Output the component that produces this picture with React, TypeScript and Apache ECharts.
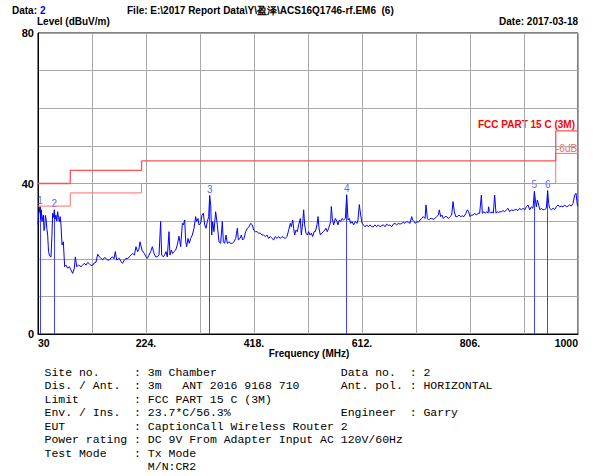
import React, { useEffect, useRef } from "react";
import * as echarts from "echarts";

// ---------------- data ----------------
const traceFreqs = [
  30.0, 31.2, 32.4, 33.6, 34.8, 36.0, 37.2, 38.4, 39.6, 40.8, 42.0, 43.2, 44.4, 45.9, 47.4, 48.9, 50.4, 51.9, 53.4, 55.0,
  56.3, 58.0, 59.3, 60.8, 62.3, 63.8, 65.3, 66.8, 68.3, 69.8, 71.3, 73.1, 75.5, 77.9, 80.3, 83.3, 86.3, 89.3, 92.3, 95.3,
  97.1, 99.5, 103.0, 107.3, 110.2, 113.2, 116.2, 119.2, 122.2, 125.2, 128.2, 131.2, 134.2, 137.2, 140.2, 143.2, 146.2, 149.2, 152.2, 155.1,
  158.1, 161.1, 164.1, 166.5, 168.9, 171.3, 176.1, 179.1, 182.1, 185.1, 188.1, 191.1, 194.1, 197.1, 200.1, 203.1, 206.0, 209.0, 211.2, 213.2,
  216.8, 221.0, 224.0, 226.4, 229.4, 232.4, 235.4, 238.4, 241.4, 244.4, 247.4, 250.3, 252.1, 255.1, 257.5, 259.9, 262.3, 265.3, 267.1, 269.5,
  271.9, 274.3, 277.3, 280.3, 283.3, 286.3, 289.3, 291.1, 293.5, 295.3, 297.1, 299.4, 301.8, 304.2, 307.2, 310.2, 313.2, 315.0, 317.4, 319.2,
  322.2, 324.6, 327.0, 329.4, 331.8, 334.2, 336.6, 338.4, 340.2, 342.0, 343.8, 346.1, 349.1, 352.1, 355.1, 358.1, 361.1, 362.9, 365.3, 367.7,
  370.1, 373.1, 376.1, 379.1, 382.1, 385.1, 388.1, 389.9, 392.9, 395.3, 397.6, 400.0, 403.0, 406.0, 409.0, 412.0, 415.0, 417.4, 420.4, 423.4,
  426.4, 429.4, 432.4, 435.4, 438.4, 441.3, 444.3, 447.3, 450.3, 453.3, 456.3, 459.3, 462.3, 465.3, 468.3, 471.3, 474.3, 477.3, 480.3, 483.3,
  485.1, 487.5, 489.3, 491.0, 493.4, 495.8, 498.2, 501.2, 503.0, 505.4, 507.2, 509.0, 511.4, 513.8, 516.2, 518.6, 521.0, 523.4, 525.8, 528.2,
  531.2, 533.0, 534.8, 537.2, 540.1, 542.5, 544.9, 547.3, 549.7, 552.1, 553.9, 555.7, 556.9, 558.7, 561.1, 564.1, 567.1, 568.9, 571.3, 573.7,
  576.1, 579.1, 582.1, 584.5, 586.9, 589.3, 591.6, 594.0, 597.0, 600.0, 603.0, 604.8, 607.2, 609.6, 612.0, 614.4, 617.4, 620.4, 623.4, 626.4,
  629.4, 632.4, 635.3, 638.3, 641.3, 644.3, 647.3, 650.3, 653.3, 656.3, 659.3, 662.3, 665.3, 668.3, 671.3, 674.3, 677.3, 680.3, 683.3, 686.2,
  689.2, 692.2, 695.2, 698.2, 701.2, 703.0, 705.4, 707.8, 710.2, 713.2, 716.2, 719.2, 722.2, 725.2, 727.0, 729.4, 731.8, 734.2, 737.2, 740.1,
  743.1, 746.1, 749.1, 750.9, 753.3, 755.7, 758.1, 761.1, 764.1, 767.1, 770.1, 773.1, 775.5, 777.9, 780.3, 783.2, 786.2, 789.2, 792.2, 795.2,
  798.8, 801.2, 803.6, 806.0, 808.4, 811.4, 814.4, 817.4, 820.4, 823.4, 826.4, 828.2, 831.1, 833.5, 835.9, 838.3, 839.5, 840.7, 843.1, 845.5,
  847.9, 850.3, 852.7, 855.1, 857.5, 859.9, 862.3, 865.3, 868.3, 871.3, 874.3, 877.2, 880.2, 883.2, 886.2, 889.2, 892.2, 895.2, 898.2, 901.2,
  904.2, 907.2, 910.2, 913.2, 916.2, 919.2, 921.6, 923.4, 925.2, 927.0, 929.3, 931.7, 934.1, 937.1, 940.1, 943.1, 945.5, 947.3, 949.1, 952.1,
  955.1, 958.1, 961.1, 964.1, 967.1, 970.1, 973.1, 976.1, 979.1, 982.1, 985.0, 988.0, 991.0, 994.0, 996.4, 998.8, 1000.0,
];
const traceLevels = [
  29.0, 32.0, 32.5, 33.8, 30.5, 33.0, 29.9, 31.0, 31.6, 27.5, 28.1, 31.5, 30.7, 28.0, 26.3, 22.0, 21.0, 20.6, 20.5, 26.0,
  32.1, 31.0, 33.0, 30.5, 31.6, 30.0, 32.5, 31.0, 29.9, 31.2, 29.0, 23.7, 24.5, 17.9, 18.3, 17.5, 17.9, 17.0, 16.1, 17.5,
  20.5, 17.9, 18.3, 17.9, 18.3, 18.8, 18.3, 19.0, 18.7, 18.2, 18.3, 18.9, 19.1, 21.2, 20.5, 20.1, 19.7, 20.3, 20.1, 19.6,
  19.7, 20.2, 20.5, 20.0, 21.9, 19.7, 20.1, 19.2, 18.8, 19.7, 20.1, 20.0, 20.5, 21.0, 21.4, 21.0, 23.2, 21.9, 22.5, 24.5,
  22.3, 21.4, 20.5, 20.1, 21.0, 21.9, 23.2, 21.4, 20.5, 20.5, 21.0, 29.9, 21.0, 20.5, 21.0, 21.9, 20.5, 27.2, 21.0, 22.3,
  21.4, 21.9, 22.3, 23.7, 26.0, 23.2, 29.4, 29.0, 30.3, 24.5, 23.2, 25.4, 24.1, 25.4, 26.3, 28.1, 31.2, 29.9, 30.7, 29.0,
  29.4, 31.6, 32.1, 29.0, 28.1, 29.9, 31.2, 36.8, 34.3, 26.3, 29.9, 27.2, 32.5, 29.0, 24.5, 24.1, 29.9, 24.5, 24.1, 26.3,
  24.1, 24.5, 24.1, 24.1, 24.5, 25.4, 28.1, 25.0, 25.4, 26.3, 25.0, 25.4, 27.2, 28.1, 28.5, 29.4, 29.0, 27.6, 27.2, 27.2,
  26.8, 26.8, 26.3, 26.3, 25.9, 26.3, 25.4, 25.9, 25.4, 25.0, 25.9, 25.4, 25.9, 25.4, 25.9, 25.6, 25.4, 25.9, 27.6, 29.4,
  28.5, 30.3, 28.1, 26.3, 27.6, 27.2, 29.0, 30.7, 26.3, 29.4, 33.0, 29.0, 26.8, 26.3, 27.2, 26.3, 26.8, 25.9, 27.2, 27.2,
  29.0, 31.2, 28.1, 26.3, 26.8, 27.2, 27.6, 28.1, 27.2, 28.1, 29.0, 29.9, 33.9, 30.7, 29.0, 30.7, 29.9, 29.0, 30.3, 29.9,
  30.7, 30.3, 30.7, 37.0, 30.3, 30.7, 29.4, 29.9, 29.0, 29.9, 29.4, 30.3, 34.4, 31.6, 29.5, 29.0, 28.5, 29.0, 28.5, 29.0,
  28.5, 28.5, 29.0, 28.5, 29.0, 28.5, 28.8, 29.0, 28.5, 29.2, 28.8, 29.0, 28.5, 29.2, 29.4, 29.0, 29.4, 29.2, 29.4, 29.7,
  29.4, 29.9, 29.7, 29.4, 31.2, 30.3, 29.9, 29.4, 29.9, 29.7, 30.3, 30.7, 31.2, 30.7, 34.3, 30.7, 30.3, 30.7, 30.7, 30.5,
  30.7, 31.2, 31.6, 33.0, 31.2, 31.6, 30.7, 31.2, 31.2, 30.7, 31.2, 31.6, 35.2, 32.5, 31.2, 31.2, 31.6, 31.2, 31.4, 31.2,
  32.1, 33.0, 32.5, 31.2, 31.6, 31.6, 32.1, 31.6, 32.1, 32.1, 36.9, 32.1, 32.5, 32.1, 32.5, 32.1, 33.8, 32.5, 32.1, 32.5,
  32.1, 36.9, 32.1, 32.5, 32.3, 32.5, 32.5, 32.8, 32.5, 33.0, 33.4, 32.5, 33.0, 32.8, 33.0, 33.1, 32.8, 33.4, 33.0, 33.4,
  33.0, 33.8, 34.3, 33.0, 33.8, 33.4, 37.9, 35.6, 33.8, 35.6, 34.3, 33.0, 33.4, 33.0, 33.1, 33.4, 38.1, 34.7, 33.4, 33.0,
  33.4, 33.1, 33.8, 34.3, 33.8, 34.0, 33.8, 34.3, 33.8, 34.0, 34.3, 34.0, 34.7, 36.9, 37.4, 34.3, 34.0,
];

// FCC Part 15 C (3M) limit: band edges and levels
const limitFreqs = [30, 88, 216, 960, 1000];
const limitLevels = [40, 43.5, 46, 54];
const marginDb = 6;

// peak markers
const markerNames = ["1", "2", "3", "4", "5", "6"];
const markerFreqs = [33.6, 59.3, 338.4, 584.5, 921.6, 945.5];
const markerLevels = [33.8, 33.0, 36.8, 37.0, 37.9, 38.1];

// axis tick labels
const xTickLabels = ["30", "224.", "418.", "612.", "806.", "1000"];
const yTickLabels = ["0", "40", "80"];

// info block
const infoRows: (string | null)[][] = [
  ["Site no.", "3m Chamber", "Data no.", "2"],
  ["Dis. / Ant.", "3m   ANT 2016 9168 710", "Ant. pol.", "HORIZONTAL"],
  ["Limit", "FCC PART 15 C (3M)", null, null],
  ["Env. / Ins.", "23.7*C/56.3%", "Engineer", "Garry"],
  ["EUT", "CaptionCall Wireless Router 2", null, null],
  ["Power rating", "DC 9V From Adapter Input AC 120V/60Hz", null, null],
  ["Test Mode", "Tx Mode", null, null],
  [null, "M/N:CR2", null, null],
];

// ---------------- helpers ----------------
const SANS = '"Liberation Sans", Arial, sans-serif';
const MONO = '"Liberation Mono", "DejaVu Sans Mono", monospace';

function pad(s: string, n: number) {
  while (s.length < n) s += " ";
  return s;
}

function buildLine(row: (string | null)[]) {
  let s = row[0] === null ? pad("", 15) : pad(row[0] as string, 13) + ": ";
  s += row[1] || "";
  if (row[2] !== null) {
    s = pad(s, 43) + pad(row[2] as string, 10) + ": " + (row[3] || "");
  }
  return s;
}

function stepData(freqs: number[], levels: number[], offset: number) {
  const pts: number[][] = [];
  for (let i = 0; i < levels.length; i++) {
    pts.push([freqs[i], levels[i] + offset]);
    pts.push([freqs[i + 1], levels[i] + offset]);
  }
  return pts;
}

function txt(text: string, x: number, y: number, opts: any = {}) {
  return {
    type: "text",
    x,
    y,
    silent: true,
    style: {
      text,
      fill: opts.fill || "#000",
      font: opts.font || `bold 10px ${SANS}`,
      textAlign: opts.align || "left",
      align: opts.align || "left",
      textVerticalAlign: "middle",
      verticalAlign: "middle",
    },
  };
}

export default function App() {
  const ref = useRef<HTMLDivElement>(null);

  useEffect(() => {
    if (!ref.current) return;
    const chart = echarts.init(ref.current, null, { renderer: "svg" });

    const graphics: any[] = [
      txt("Data:", 12, 10),
      txt("2", 40, 10, { fill: "#0000ff" }),
      txt("File: E:\\2017 Report Data\\Y\\盈泽\\ACS16Q1746-rf.EM6  (6)", 127, 10),
      txt("Level (dBuV/m)", 37, 21),
      txt("Date: 2017-03-18", 578, 21, { align: "right" }),
      txt("Frequency (MHz)", 309, 353, { align: "center" }),
      txt("FCC PART 15 C (3M)", 575, 124.5, { fill: "#ff0000", align: "right" }),
      txt("-6dB", 556, 148, { fill: "#ff6060", font: `10px ${SANS}` }),
    ];

    const cw = 6.89;
    infoRows.forEach((row, i) => {
      const line = buildLine(row);
      const re = /\S+/g;
      let m: RegExpExecArray | null;
      while ((m = re.exec(line))) {
        graphics.push(
          txt(m[0], 44.5 + m.index * cw, 372 + i * 13.5, { font: `11.5px ${MONO}` })
        );
      }
    });

    const option: any = {
      animation: false,
      backgroundColor: "#ffffff",
      grid: {
        left: 38,
        top: 33,
        width: 540,
        height: 301,
        show: true,
        borderColor: "#000",
        borderWidth: 1,
      },
      xAxis: [
        { type: "value", min: 30, max: 1000, show: false },
        {
          type: "value",
          min: 0,
          max: 970,
          interval: 97,
          position: "bottom",
          axisLine: { show: true, lineStyle: { color: "#000", width: 1 } },
          axisTick: { show: false },
          splitLine: { show: true, lineStyle: { color: "#a8a8a8", width: 1 } },
          axisLabel: {
            interval: 0,
            margin: 3,
            color: "#000",
            fontWeight: "bold",
            fontSize: 10.5,
            fontFamily: SANS,
            showMinLabel: true,
            showMaxLabel: true,
            alignMinLabel: "left",
            alignMaxLabel: "right",
            formatter: (v: number) => {
              const r = Math.round(v);
              return r % 194 === 0 ? xTickLabels[r / 194] : "";
            },
          },
        },
      ],
      yAxis: {
        type: "value",
        min: 0,
        max: 80,
        interval: 10,
        axisLine: { show: true, lineStyle: { color: "#000", width: 1 } },
        axisTick: { show: false },
        splitLine: { show: true, lineStyle: { color: "#a8a8a8", width: 1 } },
        axisLabel: {
          margin: 4,
          color: "#000",
          fontWeight: "bold",
          fontSize: 11,
          fontFamily: SANS,
          formatter: (v: number) => {
            const r = Math.round(v);
            return r % 40 === 0 ? yTickLabels[r / 40] : "";
          },
        },
      },
      series: [
        {
          type: "line",
          name: "margin",
          xAxisIndex: 0,
          data: stepData(limitFreqs, limitLevels, -marginDb),
          symbol: "none",
          silent: true,
          lineStyle: { color: "#ff7070", width: 1 },
        },
        {
          type: "line",
          name: "limit",
          xAxisIndex: 0,
          data: stepData(limitFreqs, limitLevels, 0),
          symbol: "none",
          silent: true,
          lineStyle: { color: "#ff5050", width: 1.3 },
        },
        {
          type: "lines",
          name: "markerLines",
          coordinateSystem: "cartesian2d",
          xAxisIndex: 0,
          yAxisIndex: 0,
          silent: true,
          polyline: false,
          lineStyle: { color: "#4040ff", width: 1, opacity: 1, curveness: 0 },
          data: markerFreqs.map((f, i) => ({ coords: [[f, 0], [f, markerLevels[i]]] })),
        },
        {
          type: "line",
          name: "trace",
          xAxisIndex: 0,
          data: traceFreqs.map((f, i) => [f, traceLevels[i]]),
          symbol: "none",
          silent: true,
          lineStyle: { color: "#0000ff", width: 1 },
        },
        {
          type: "scatter",
          name: "markers",
          xAxisIndex: 0,
          data: markerFreqs.map((f, i) => [f, markerLevels[i]]),
          symbolSize: 1,
          silent: true,
          itemStyle: { color: "rgba(0,0,0,0)" },
          label: {
            show: true,
            position: "top",
            distance: 1,
            color: "#3333ff",
            fontSize: 10,
            fontFamily: SANS,
            formatter: (p: any) => markerNames[p.dataIndex],
          },
        },
      ],
      graphic: graphics,
    };

    chart.setOption(option);
    return () => chart.dispose();
  }, []);

  return (
    <div
      ref={ref}
      style={{ position: "absolute", left: 0, top: 0, width: 597, height: 476, background: "#fff" }}
    />
  );
}
